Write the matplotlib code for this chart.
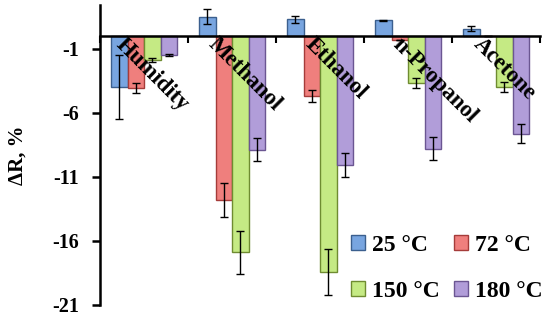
import numpy as np
import matplotlib
matplotlib.use("Agg")
from matplotlib import pyplot as plt

# 数据
gases = ["Humidity", "Methanol", "Ethanol", "n-Propanol", "Acetone"]
temps = ["25 °C", "72 °C", "150 °C", "180 °C"]

dr_25 = [-4.0, 1.5, 1.3, 1.2, 0.55]
dr_72 = [-4.1, -12.8, -4.7, -0.35, 0.0]
dr_150 = [-1.9, -16.9, -18.4, -3.7, -4.0]
dr_180 = [-1.5, -8.9, -10.1, -8.8, -7.65]

err_25 = [2.5, 0.55, 0.27, 0.05, 0.2]
err_72 = [0.4, 1.3, 0.5, 0.0, 0.0]
err_150 = [0.15, 1.7, 1.8, 0.4, 0.4]
err_180 = [0.1, 0.9, 0.95, 0.9, 0.75]

values = [dr_25, dr_72, dr_150, dr_180]
errors = [err_25, err_72, err_150, err_180]

fills = ["#78a5e0", "#ef7f7d", "#c5ea84", "#b19dd9"]
edges = ["#3b5f8e", "#a53c3a", "#6f8c31", "#6b5692"]

# 标签的水平微调
label_dx = [-0.2, -0.15, -0.05, -0.05, -0.14]

plt.rcParams['font.family'] = ['Liberation Serif', 'DejaVu Serif']
plt.rcParams['font.weight'] = 'bold'
plt.rcParams['axes.unicode_minus'] = False

fig = plt.figure(figsize=(5.5, 3.2), dpi=100)
ax = fig.add_axes([100 / 550, 15 / 320, 440 / 550, 300 / 320])

x = np.arange(len(gases))
w = 0.1875
bars = []
for k in range(4):
    b = ax.bar(x + (k - 1.5) * w, values[k], width=w, color=fills[k],
               edgecolor=edges[k], linewidth=1.0, label=temps[k], zorder=2)
    bars.append(b)
    ax.errorbar(x + (k - 1.5) * w, values[k], yerr=errors[k], fmt='none',
                ecolor='black', elinewidth=1.0, capsize=3, capthick=1.0, zorder=3)

ax.set_xlim(-0.5, 4.5)
ax.set_ylim(-21, 2.4)
ax.set_yticks([-21, -16, -11, -6, -1])
ax.set_xticks(np.arange(-0.5, 5, 1))
ax.set_xticklabels([])

ax.spines['top'].set_visible(False)
ax.spines['right'].set_visible(False)
ax.spines['bottom'].set_position(('data', 0))
ax.spines['left'].set_linewidth(1.8)
ax.spines['bottom'].set_linewidth(1.8)
ax.tick_params(axis='y', direction='out', length=6, width=1.8, labelsize=14.5, pad=9)
ax.tick_params(axis='x', direction='out', length=5, width=1.5)

for i, g in enumerate(gases):
    ax.text(i + label_dx[i], 0.15, g, rotation=-45, rotation_mode='anchor',
            ha='left', va='top', fontsize=16.5, fontweight='bold', zorder=4)

ax.set_ylabel("ΔR, %", fontsize=15, fontweight='bold', labelpad=18)

# 图例按行排列: 25, 72 / 150, 180
order = [0, 2, 1, 3]
ax.legend([bars[k] for k in order], [temps[k] for k in order], ncol=2,
          loc='lower right', bbox_to_anchor=(1.055, -0.06), frameon=False,
          prop={'size': 17, 'weight': 'bold'}, handlelength=0.6, handleheight=0.6,
          handletextpad=0.3, columnspacing=0.6, labelspacing=1.05)

plt.savefig("out.png", dpi=100)
